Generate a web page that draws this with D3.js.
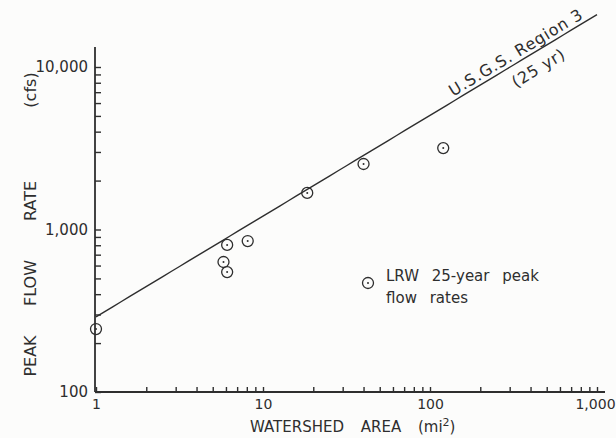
<!DOCTYPE html>
<html lang="en">
<head>
  <meta charset="UTF-8">
  <title>Peak Flow Rate vs Watershed Area</title>
  <script src="https://d3js.org/d3.v7.min.js"></script>
  <style>
    body { margin: 0; padding: 0; background: #fcfcfb; }
    svg text { font-family: "DejaVu Sans", sans-serif; fill: #2e2e2e; }
  </style>
</head>
<body>
<svg id="chart" width="616" height="438"></svg>
<script>
// LRW 25-year peak flow rates (area in mi2, flow in cfs)
const areas = [1, 5.8, 6.1, 6.1, 8.1, 18.4, 40, 120];
const flows = [244, 631, 547, 804, 849, 1680, 2530, 3170];

// U.S.G.S. Region 3 (25 yr) line: Q = a * A^b
const usgsA = 290;
const usgsB = 0.62;
const usgsRange = [1, 1000];

const xTicks = [1, 2, 3, 4, 5, 6, 7, 8, 9, 10, 20, 30, 40, 50, 60, 70, 80, 90, 100,
                200, 300, 400, 500, 600, 700, 800, 900, 1000];
const yTicks = [100, 200, 300, 400, 500, 600, 700, 800, 900, 1000,
                2000, 3000, 4000, 5000, 6000, 7000, 8000, 9000, 10000];
const xLabels = {1: "1", 10: "10", 100: "100", 1000: "1,000"};
const yLabels = {100: "100", 1000: "1,000", 10000: "10,000"};

const ink = "#2e2e2e";
const svg = d3.select("#chart");

const x = d3.scaleLog().domain([1, 1000]).range([96, 597]);
const y = d3.scaleLog().domain([100, 10000]).range([392, 67]);

// axes
const xAxis = d3.axisBottom(x)
  .tickValues(xTicks)
  .tickFormat(d => xLabels[d] || "")
  .tickSize(-5)
  .tickSizeOuter(0)
  .tickPadding(7);
const yAxis = d3.axisLeft(y)
  .tickValues(yTicks)
  .tickFormat(d => yLabels[d] || "")
  .tickSize(-6)
  .tickSizeOuter(0)
  .tickPadding(7);

const gx = svg.append("g").attr("transform", "translate(0,392)").call(xAxis);
const gy = svg.append("g").attr("transform", "translate(95,0)").call(yAxis);
[gx, gy].forEach(g => {
  g.select(".domain").remove();
  g.selectAll("line").attr("stroke", ink).attr("stroke-width", 1.4);
  g.selectAll("text").attr("fill", ink);
});
gx.selectAll("text").style("font-size", "14px");
gx.selectAll(".tick").filter(d => d === 1000).select("text").attr("dx", -2);
gy.selectAll("text").style("font-size", "15px");

// axis lines, extended a bit past the domain like the original
svg.append("line").attr("x1", 95).attr("x2", 605).attr("y1", 392).attr("y2", 392)
  .attr("stroke", ink).attr("stroke-width", 1.8);
svg.append("line").attr("x1", 95).attr("x2", 95).attr("y1", 47).attr("y2", 392)
  .attr("stroke", ink).attr("stroke-width", 1.8);

// USGS regression line
const usgs = d3.range(0, 61).map(i => {
  const a = usgsRange[0] * Math.pow(usgsRange[1] / usgsRange[0], i / 60);
  return [a, usgsA * Math.pow(a, usgsB)];
});
const lineGen = d3.line().x(d => x(d[0])).y(d => y(d[1]));
svg.append("path").datum(usgs).attr("d", lineGen)
  .attr("fill", "none").attr("stroke", ink).attr("stroke-width", 1.4);

// label along the line
const p0 = usgs[0], p1 = usgs[usgs.length - 1];
const angle = Math.atan2(y(p1[1]) - y(p0[1]), x(p1[0]) - x(p0[0])) * 180 / Math.PI;
function onLine(a) { return [x(a), y(usgsA * Math.pow(a, usgsB))]; }
const l1 = onLine(350), l2 = onLine(400);
svg.append("text")
  .attr("transform", `translate(${l1[0]},${l1[1]}) rotate(${angle}) translate(0,-4)`)
  .attr("text-anchor", "middle").style("font-size", "16px")
  .attr("letter-spacing", "0.8px")
  .text("U.S.G.S. Region 3");
svg.append("text")
  .attr("transform", `translate(${l2[0]},${l2[1]}) rotate(${angle}) translate(0,21)`)
  .attr("text-anchor", "middle").style("font-size", "16px")
  .attr("letter-spacing", "0.8px")
  .text("(25 yr)");

// data points: open circle with centre dot
const pts = svg.append("g").selectAll("g")
  .data(areas.map((a, i) => [a, flows[i]]))
  .join("g")
  .attr("transform", d => `translate(${x(d[0])},${y(d[1])})`);
pts.append("circle").attr("r", 5.5).attr("fill", "none")
  .attr("stroke", ink).attr("stroke-width", 1.3);
pts.append("circle").attr("r", 1).attr("fill", ink);

// legend
const lg = svg.append("g").attr("transform", "translate(368,283)");
lg.append("circle").attr("r", 5.5).attr("fill", "none").attr("stroke", ink).attr("stroke-width", 1.3);
lg.append("circle").attr("r", 1).attr("fill", ink);
svg.append("text").attr("x", 386).attr("y", 281).style("font-size", "15px")
  .attr("word-spacing", "8px").text("LRW 25-year peak");
svg.append("text").attr("x", 386).attr("y", 303).style("font-size", "15px")
  .attr("word-spacing", "8px").text("flow rates");

// axis titles
const yTitle = [["PEAK", 356], ["FLOW", 283], ["RATE", 201], ["(cfs)", 90]];
yTitle.forEach(([t, cy]) => {
  svg.append("text")
    .attr("transform", `translate(36,${cy}) rotate(-90)`)
    .attr("text-anchor", "middle").style("font-size", "16px")
    .text(t);
});
const xt = svg.append("text").attr("x", 250).attr("y", 432).style("font-size", "15px")
  .attr("word-spacing", "12px");
xt.append("tspan").text("WATERSHED AREA (mi");
xt.append("tspan").attr("dy", -6).style("font-size", "11px").text("2");
xt.append("tspan").attr("dy", 6).text(")");
</script>
</body>
</html>
